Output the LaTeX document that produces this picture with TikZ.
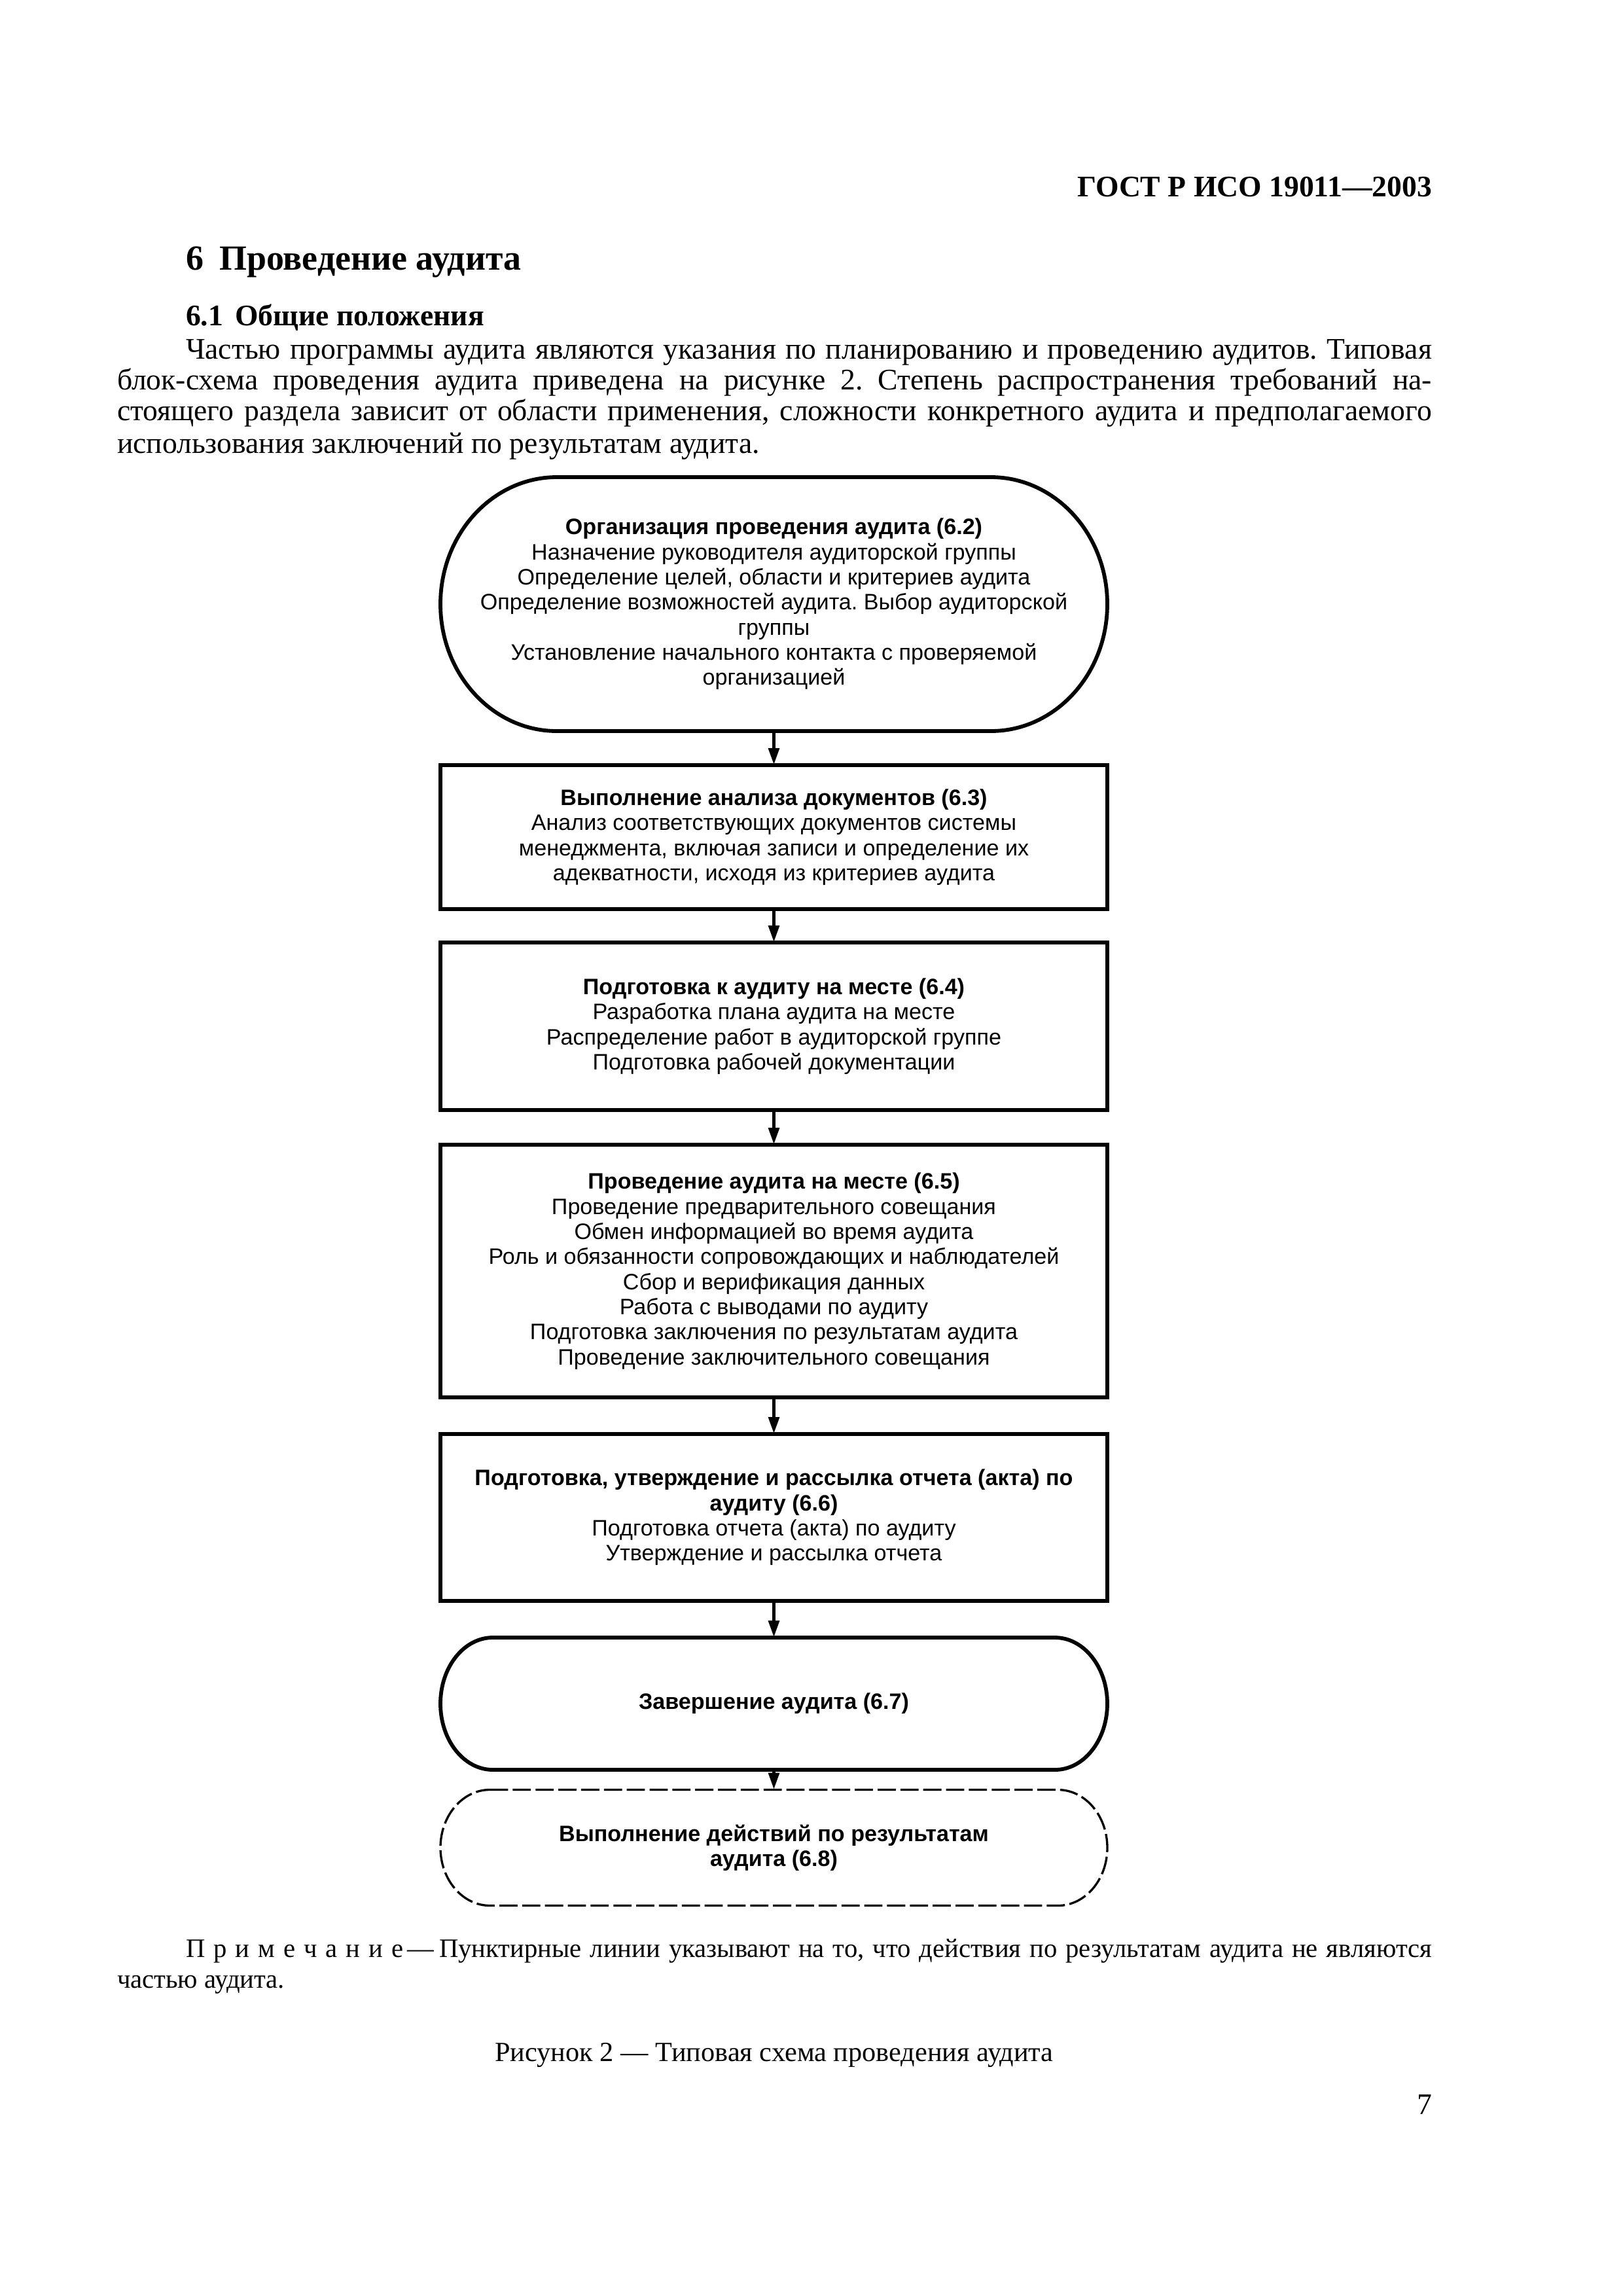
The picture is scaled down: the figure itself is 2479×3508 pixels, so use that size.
\documentclass[tikz,border=0pt]{standalone}
\usepackage{fontspec}
\setmainfont{Liberation Serif}
\newfontfamily\boxfont{Liberation Sans}
\usetikzlibrary{arrows.meta}
\frenchspacing
\begin{document}
\begin{tikzpicture}[x=0.084711mm,y=-0.084711mm,
  every node/.style={inner sep=0pt,outer sep=0pt},
  bodyline/.style={anchor=base west,font=\frenchspacing\fontsize{11pt}{13pt}\selectfont},
  noteline/.style={anchor=base west,font=\frenchspacing\fontsize{9.8pt}{12pt}\selectfont},
  boxtext/.style={font=\boxfont\fontsize{8.22pt}{9.24pt}\selectfont,align=center,minimum width=86.32mm},
  rectbox/.style={boxtext,draw,line width=1.4pt},
  thickline/.style={line width=1.4pt},
  dashline/.style={line width=0.8pt,dash pattern=on 6.7pt off 1.7pt},
  conn/.style={line width=1.4pt,-{Triangle[length=2.2mm,width=1.35mm]}}
]
\fill[white] (0,0) rectangle (2479,3508);
\useasboundingbox (0,0) rectangle (2479,3508);

% header and text
\node[anchor=base east,font=\bfseries\fontsize{11pt}{13pt}\selectfont] (hdr) at (2188,300) {ГОСТ Р ИСО 19011—2003};
\node[anchor=base west,font=\bfseries\fontsize{13pt}{15pt}\selectfont] (sec) at (284,412) {6\hspace{0.45em}Проведение аудита};
\node[anchor=base west,font=\bfseries\fontsize{11pt}{13pt}\selectfont] (subsec) at (284,497) {6.1\hspace{0.4em}Общие положения};
\node[bodyline] (p1) at (284,548) {\makebox[161.29mm][s]{Частью программы аудита являются указания по планированию и проведению аудитов. Типовая}};
\node[bodyline] (p2) at (179,595) {\makebox[170.18mm][s]{блок-схема проведения аудита приведена на рисунке 2. Степень распространения требований на-}};
\node[bodyline] (p3) at (179,642) {\makebox[170.18mm][s]{стоящего раздела зависит от области применения, сложности конкретного аудита и предполагаемого}};
\node[bodyline] (p4) at (179,692) {использования заключений по результатам аудита.};

% boxes
\node[boxtext,minimum height=32.87mm] (b1) at (1182.5,923) {\textbf{Организация проведения аудита (6.2)}\\
Назначение руководителя аудиторской группы\\
Определение целей, области и критериев аудита\\
Определение возможностей аудита. Выбор аудиторской\\
группы\\
Установление начального контакта с проверяемой\\
организацией};
\draw[thickline] ([xshift=15.08mm]b1.north west) -- ([xshift=-15.08mm]b1.north east)
  arc[start angle=90,end angle=-90,x radius=15.08mm,y radius=16.435mm]
  -- ([xshift=15.08mm]b1.south west)
  arc[start angle=270,end angle=90,x radius=15.08mm,y radius=16.435mm] -- cycle;

\node[rectbox,minimum height=18.64mm] (b2) at (1182.5,1279) {\textbf{Выполнение анализа документов (6.3)}\\
Анализ соответствующих документов системы\\
менеджмента, включая записи и определение их\\
адекватности, исходя из критериев аудита};

\node[rectbox,minimum height=21.69mm] (b3) at (1182.5,1568) {\textbf{Подготовка к аудиту на месте (6.4)}\\
Разработка плана аудита на месте\\
Распределение работ в аудиторской группе\\
Подготовка рабочей документации};

\node[rectbox,minimum height=32.70mm] (b4) at (1182.5,1942) {\textbf{Проведение аудита на месте (6.5)}\\
Проведение предварительного совещания\\
Обмен информацией во время аудита\\
Роль и обязанности сопровождающих и наблюдателей\\
Сбор и верификация данных\\
Работа с выводами по аудиту\\
Подготовка заключения по результатам аудита\\
Проведение заключительного совещания};

\node[rectbox,minimum height=21.60mm] (b5) at (1182.5,2318.5) {\textbf{Подготовка, утверждение и рассылка отчета (акта) по}\\
\textbf{аудиту (6.6)}\\
Подготовка отчета (акта) по аудиту\\
Утверждение и рассылка отчета};

\node[boxtext,minimum height=17.11mm] (b6) at (1182.5,2603) {\textbf{Завершение аудита (6.7)}};
\draw[thickline] ([xshift=6.78mm]b6.north west) -- ([xshift=-6.78mm]b6.north east)
  arc[start angle=90,end angle=-90,x radius=6.78mm,y radius=8.556mm]
  -- ([xshift=6.78mm]b6.south west)
  arc[start angle=270,end angle=90,x radius=6.78mm,y radius=8.556mm] -- cycle;

\node[boxtext,minimum height=14.99mm] (b7) at (1182.5,2823) {\textbf{Выполнение действий по результатам}\\
\textbf{аудита (6.8)}};
\draw[dashline] ([xshift=6.4mm]b7.north west) -- ([xshift=-6.4mm]b7.north east)
  arc[start angle=90,end angle=-90,x radius=6.4mm,y radius=7.497mm]
  -- ([xshift=6.4mm]b7.south west)
  arc[start angle=270,end angle=90,x radius=6.4mm,y radius=7.497mm] -- cycle;

% connectors
\draw[conn] (b1.south) -- (b2.north);
\draw[conn] (b2.south) -- (b3.north);
\draw[conn] (b3.south) -- (b4.north);
\draw[conn] (b4.south) -- (b5.north);
\draw[conn] (b5.south) -- (b6.north);
\draw[conn] (b6.south) -- (b7.north);

% note and caption
\node[noteline] (n1) at (284,2990) {\makebox[161.29mm][s]{П\kern.32em р\kern.32em и\kern.32em м\kern.32em е\kern.32em ч\kern.32em а\kern.32em н\kern.32em и\kern.32em е\kern.15em—\kern.2em Пунктирные линии указывают на то, что действия по результатам аудита не являются}};
\node[noteline] (n2) at (179,3037) {частью аудита.};
\node[anchor=base,font=\fontsize{10.2pt}{12pt}\selectfont] (cap) at (1183,3149) {Рисунок 2 — Типовая схема проведения аудита};
\node[anchor=base east,font=\fontsize{11pt}{13pt}\selectfont] (pg) at (2188,3230) {7};
\end{tikzpicture}
\end{document}
